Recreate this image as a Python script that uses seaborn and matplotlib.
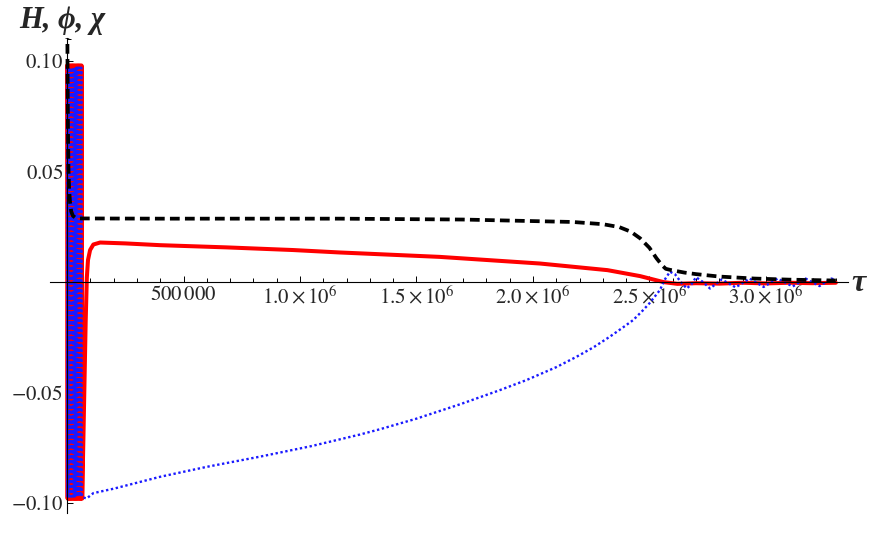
import matplotlib
matplotlib.use("Agg")
import matplotlib.pyplot as plt
import pandas as pd
import seaborn as sns
from matplotlib.ticker import MultipleLocator

# phi (red, solid): fast oscillation at start, then slow decay to zero
PHI_TAU = [
    0, 2600, 5200, 7800, 10400, 13000, 15600, 18200, 20800, 23400, 26000,
    28600, 31200, 33800, 36400, 39000, 41600, 44200, 46800, 49400, 52000,
    54600, 57200, 59800, 62400, 65000,
    70000, 75000, 80000, 85000, 90000, 99000, 113000, 142000, 250000,
    400000, 685000, 970000, 1170000, 1257000, 1600000, 2030000, 2320000,
    2460000, 2560000, 2620000, 2700000, 2800000, 2900000, 3000000,
    3100000, 3200000, 3300000,
]
PHI_VAL = [
    0.098, -0.098, 0.098, -0.098, 0.098, -0.098, 0.098, -0.098, 0.098,
    -0.098, 0.098, -0.098, 0.098, -0.098, 0.098, -0.098, 0.098, -0.098,
    0.098, -0.098, 0.098, -0.098, 0.098, -0.098, 0.098, -0.098,
    -0.072, -0.045, -0.018, 0.002, 0.010, 0.0145, 0.0170, 0.0179, 0.0175,
    0.0167, 0.0157, 0.0145, 0.0134, 0.0130, 0.0114, 0.0084, 0.0054,
    0.0027, 0.0, -0.0008, -0.0005, -0.0007, -0.0003, -0.0006,
    -0.0003, -0.0005, -0.0003,
]

# chi (blue, dotted)
CHI_TAU = [
    0, 1300, 3900, 6500, 9100, 11700, 14300, 16900, 19500, 22100, 24700,
    27300, 29900, 32500, 35100, 37700, 40300, 42900, 45500, 48100, 50700,
    53300, 55900, 58500, 61100, 63700,
    70000, 84500, 113000, 200000, 400000, 600000, 828000, 1050000,
    1257000, 1343000, 1500000, 1687000, 1850000, 1973000, 2100000,
    2187000, 2260000, 2330000, 2380000, 2430000, 2470000, 2500000,
    2545000, 2565000, 2588000, 2610000, 2635000, 2660000, 2680000,
    2700000, 2730000, 2760000, 2810000, 2870000, 2930000, 2990000,
    3050000, 3115000, 3170000, 3230000, 3280000, 3300000,
]
CHI_VAL = [
    0.097, -0.097, 0.097, -0.097, 0.097, -0.097, 0.097, -0.097, 0.097,
    -0.097, 0.097, -0.097, 0.097, -0.097, 0.097, -0.097, 0.097, -0.097,
    0.097, -0.097, 0.097, -0.097, 0.097, -0.097, 0.097, -0.097,
    -0.0975, -0.0979, -0.0955, -0.0935, -0.0881, -0.0836, -0.0790, -0.0742,
    -0.0690, -0.0666, -0.0618, -0.0553, -0.0492, -0.0443, -0.0385,
    -0.0338, -0.0295, -0.0247, -0.0210, -0.0172, -0.0130, -0.0096,
    -0.0036, 0.0010, 0.0047, 0.0035, 0.0, -0.0029, -0.0010,
    0.0022, 0.0, -0.0029, 0.0012, -0.0024, 0.0016, -0.0022,
    0.0016, -0.0020, 0.0016, -0.0018, 0.0016, 0.0010,
]

# H (black, dashed)
H_TAU = [
    0, 2000, 4000, 6000, 9000, 13000, 18000, 25000, 35000, 50000,
    400000, 1170000, 1700000, 2170000, 2300000, 2370000, 2420000,
    2460000, 2500000, 2530000, 2555000, 2570000, 2590000, 2650000,
    2700000, 2800000, 2950000, 3100000, 3300000,
]
H_VAL = [
    0.140, 0.100, 0.070, 0.052, 0.042, 0.036, 0.032, 0.030, 0.0292, 0.0288,
    0.0287, 0.0287, 0.0283, 0.0272, 0.0262, 0.0249, 0.0228,
    0.0198, 0.0155, 0.0108, 0.0075, 0.0060, 0.0055, 0.0043,
    0.0036, 0.0025, 0.0016, 0.0011, 0.0007,
]

XTICKS = [500000, 1000000, 1500000, 2000000, 2500000, 3000000]
XTICK_LABELS = [r"$500\,000$", r"$1.0\times10^{6}$", r"$1.5\times10^{6}$",
                r"$2.0\times10^{6}$", r"$2.5\times10^{6}$", r"$3.0\times10^{6}$"]
YTICKS = [-0.10, -0.05, 0.05, 0.10]
YTICK_LABELS = [r"$-0.10$", r"$-0.05$", r"$0.05$", r"$0.10$"]


def main():
    sns.set_theme(style="white")
    plt.rcParams["font.family"] = ["Liberation Serif", "DejaVu Serif"]
    plt.rcParams["mathtext.fontset"] = "stix"

    phi = pd.DataFrame({"tau": PHI_TAU, "val": PHI_VAL})
    chi = pd.DataFrame({"tau": CHI_TAU, "val": CHI_VAL})
    hub = pd.DataFrame({"tau": H_TAU, "val": H_VAL})

    fig = plt.figure(figsize=(8.73, 5.33), dpi=100)
    ax = fig.add_axes([0.0573, 0.0375, 0.914, 0.891])

    sns.lineplot(data=phi, x="tau", y="val", ax=ax, color="#ff0000",
                 linewidth=2.9, sort=False, estimator=None)
    sns.lineplot(data=chi, x="tau", y="val", ax=ax, color="#1a1aff",
                 linewidth=1.7, linestyle=(0, (1, 1.1)), sort=False, estimator=None)
    sns.lineplot(data=hub, x="tau", y="val", ax=ax, color="black",
                 linewidth=2.7, linestyle=(0, (2.6, 1.4)), sort=False, estimator=None)

    ax.set_xlim(-73000, 3352000)
    ax.set_ylim(-0.1045, 0.1104)

    # Mathematica-style axes through the origin
    for side in ("top", "right"):
        ax.spines[side].set_visible(False)
    ax.spines["left"].set_position(("data", 0))
    ax.spines["bottom"].set_position(("data", 0))
    for side in ("left", "bottom"):
        ax.spines[side].set_color("black")
        ax.spines[side].set_linewidth(0.8)

    ax.set_xticks(XTICKS)
    ax.set_xticklabels(XTICK_LABELS, fontsize=15)
    ax.set_yticks(YTICKS)
    ax.set_yticklabels(YTICK_LABELS, fontsize=15)
    ax.xaxis.set_minor_locator(MultipleLocator(100000))
    ax.yaxis.set_minor_locator(MultipleLocator(0.01))
    ax.tick_params(which="both", direction="in", color="black", width=0.7,
                   bottom=True, left=True)
    ax.tick_params(which="major", length=4.5, pad=3)
    ax.tick_params(which="minor", length=2.6)
    ax.set_xlabel("")
    ax.set_ylabel("")
    ax.grid(False)

    fig.text(0.022, 0.962, "H, \u03d5, \u03c7", fontsize=22, fontweight="bold",
             fontstyle="italic", va="center", ha="left")
    fig.text(0.975, 0.468, "\u03c4", fontsize=23, fontweight="bold",
             fontstyle="italic", va="center", ha="left")

    fig.savefig("out.png", dpi=100)
    plt.close(fig)


if __name__ == "__main__":
    main()
